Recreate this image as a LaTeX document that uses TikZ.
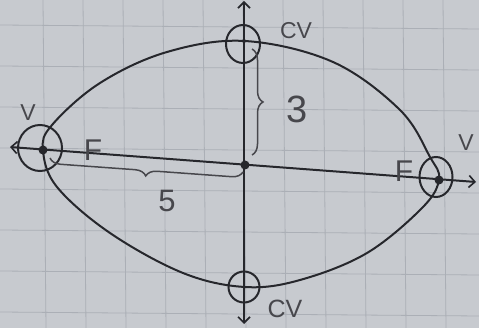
\documentclass[tikz,border=0pt]{standalone}
\usepackage{fontspec}
\setmainfont{Liberation Sans}
\usetikzlibrary{arrows.meta,shapes.geometric,decorations.pathreplacing}
\definecolor{paper}{HTML}{C7CACF}
\definecolor{gridc}{HTML}{ABAFB6}
\definecolor{ink}{HTML}{26272C}
\begin{document}
\begin{tikzpicture}[x=1pt,y=-1pt, line width=2pt, draw=ink,
  markcirc/.style={draw=ink, ellipse, line width=2pt, inner sep=0pt},
  dotp/.style={circle, fill=ink, inner sep=0pt, minimum size=9pt},
  smalldot/.style={circle, fill=ink, inner sep=0pt, minimum size=4pt},
  lbl/.style={text=ink!85, inner sep=0pt},
  barb/.tip={Straight Barb[length=6pt,width=12pt,line width=1.6pt]},
  brc/.style={decorate, decoration={brace, amplitude=11pt, aspect=0.5}, line width=1.5pt, draw=ink!85}]
\fill[paper] (0,0) rectangle (479,328);
\useasboundingbox (0,0) rectangle (479,328);
% graph paper
\foreach \x in {43,83,...,443} \draw[gridc, line width=0.8pt] (\x,0) -- (\x+3,328);
\foreach \y in {25,66,...,312} \draw[gridc, line width=0.8pt] (0,\y) -- (479,\y+4);
% ellipse
\draw[ink, line width=2pt] plot[smooth cycle, tension=0.6] coordinates {
  (43,150) (52,125) (100,83) (167,52) (245,41) (333,62) (400,110) (430,157)
  (439,179) (423,207) (367,253) (300,280) (245,287) (183,273) (110,233) (57,187)};
% axes
\coordinate (xl) at (10,147);
\coordinate (xr) at (476,182);
\coordinate (yt) at (244,1);
\coordinate (yb) at (244,324);
\draw[ink, barb-barb] (xl) -- (xr);
\draw[ink, barb-barb] (yt) -- (yb);
% points
\node[dotp] (L) at (43,150) {};
\node[dotp] (O) at (245,165) {};
\node[dotp] (R) at (439,180) {};
\node[smalldot] (T) at (244,41) {};
% marking circles
\node[markcirc, minimum width=44pt, minimum height=46pt] (cL) at (40,148) {};
\node[markcirc, minimum width=34pt, minimum height=38pt] (cT) at (243,44) {};
\node[markcirc, minimum width=33pt, minimum height=40pt] (cR) at (436,177) {};
\node[markcirc, minimum width=31pt, minimum height=31pt] (cB) at (244,287) {};
% braces
\coordinate (b3a) at (252,49);
\coordinate (b3b) at (252,155);
\draw[brc] (b3a) -- (b3b);
\coordinate (b5a) at (243,172);
\coordinate (b5b) at (50,158);
\draw[brc] (b5a) -- (b5b);
% labels
\node[lbl, font=\fontsize{23}{23}\selectfont] (vl) at (28,113) {V};
\node[lbl, font=\fontsize{30}{30}\selectfont] (fl) at (93,150) {F};
\node[lbl, font=\fontsize{23}{23}\selectfont] (cvt) at (296,31) {CV};
\node[lbl, font=\fontsize{38}{38}\selectfont] (three) at (297,109) {3};
\node[lbl, font=\fontsize{23}{23}\selectfont] (vr) at (466,143) {V};
\node[lbl, font=\fontsize{30}{30}\selectfont] (fr) at (404,171) {F};
\node[lbl, font=\fontsize{25}{25}\selectfont] (cvb) at (285,309) {CV};
\node[lbl, font=\fontsize{31}{31}\selectfont] (five) at (167,201) {5};
\end{tikzpicture}
\end{document}
